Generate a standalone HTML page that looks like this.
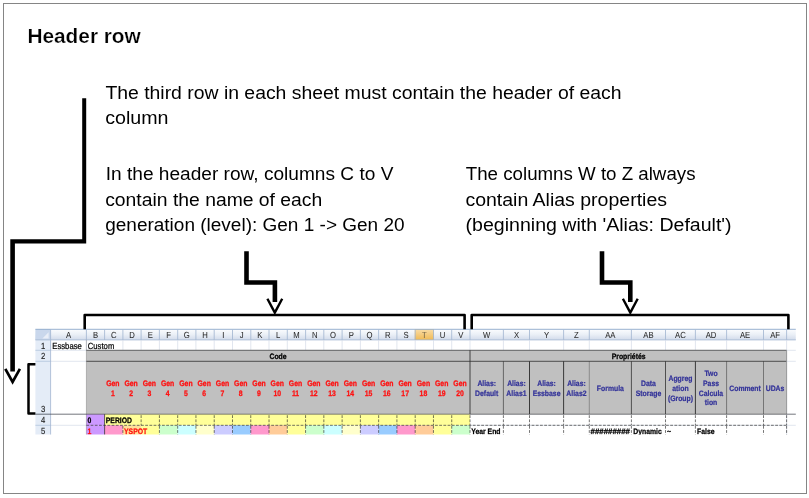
<!DOCTYPE html>
<html lang="en">
<head>
<meta charset="utf-8">
<title>Header row</title>
<style>
html,body{margin:0;padding:0;background:#fff;}
body{width:809px;height:498px;overflow:hidden;position:relative;font-family:"Liberation Sans", sans-serif;}
</style>
</head>
<body>
<svg width="809" height="498" viewBox="0 0 809 498" style="position:absolute;left:0;top:0;display:block" font-family='"Liberation Sans", sans-serif'>
<defs>
<linearGradient id="hg" x1="0" y1="0" x2="0" y2="1"><stop offset="0" stop-color="#fbfcfe"/><stop offset="0.5" stop-color="#eaeff6"/><stop offset="1" stop-color="#d2dbeb"/></linearGradient>
<linearGradient id="og" x1="0" y1="0" x2="0" y2="1"><stop offset="0" stop-color="#f9dca6"/><stop offset="1" stop-color="#f0ba55"/></linearGradient>
</defs>
<rect x="0" y="0" width="809" height="498" fill="#ffffff"/>
<rect x="3.5" y="3.5" width="803" height="490" fill="none" stroke="#858585" stroke-width="1"/>
<text x="27.4" y="43.2" font-size="19.6" font-weight="bold" fill="#000" stroke="#fff" stroke-width="0.22" textLength="113.4" lengthAdjust="spacingAndGlyphs">Header row</text>
<text x="105.4" y="98.6" font-size="18.3" fill="#000" textLength="516.1" lengthAdjust="spacingAndGlyphs">The third row in each sheet must contain the header of each</text>
<text x="105.2" y="123.6" font-size="18.3" fill="#000" textLength="63.3" lengthAdjust="spacingAndGlyphs">column</text>
<text x="105.8" y="180.4" font-size="18.3" fill="#000" textLength="287.6" lengthAdjust="spacingAndGlyphs">In the header row, columns C to V</text>
<text x="105.2" y="206.1" font-size="18.3" fill="#000" textLength="217.1" lengthAdjust="spacingAndGlyphs">contain the name of each</text>
<text x="105.2" y="231.4" font-size="18.3" fill="#000" textLength="299.4" lengthAdjust="spacingAndGlyphs">generation (level): Gen 1 -&gt; Gen 20</text>
<text x="465.8" y="180.4" font-size="18.3" fill="#000" textLength="229.7" lengthAdjust="spacingAndGlyphs">The columns W to Z always</text>
<text x="465.4" y="206.1" font-size="18.3" fill="#000" textLength="201.6" lengthAdjust="spacingAndGlyphs">contain Alias properties</text>
<text x="465.6" y="231.4" font-size="18.3" fill="#000" textLength="266.0" lengthAdjust="spacingAndGlyphs">(beginning with 'Alias: Default')</text>
<rect x="35.4" y="329.3" width="760.4" height="10.6" fill="url(#hg)"/>
<rect x="35.4" y="339.9" width="15.2" height="94.8" fill="#e4ecf7"/>
<rect x="35.4" y="329.3" width="15.2" height="10.6" fill="#c9d7ec"/>
<path d="M48.6 332.2 L48.6 338.4 L42.4 338.4 Z" fill="#e9eef7"/>
<rect x="414.7" y="329.3" width="19.2" height="10.6" fill="url(#og)"/>
<line x1="35.4" y1="329.3" x2="795.8" y2="329.3" stroke="#7f9dc4" stroke-width="0.8"/>
<line x1="35.4" y1="339.9" x2="795.8" y2="339.9" stroke="#9fb4cf" stroke-width="0.8"/>
<line x1="50.6" y1="329.8" x2="50.6" y2="339.9" stroke="#9fb4cf" stroke-width="0.8"/>
<line x1="86.4" y1="329.8" x2="86.4" y2="339.9" stroke="#9fb4cf" stroke-width="0.8"/>
<line x1="104.6" y1="329.8" x2="104.6" y2="339.9" stroke="#9fb4cf" stroke-width="0.8"/>
<line x1="122.9" y1="329.8" x2="122.9" y2="339.9" stroke="#9fb4cf" stroke-width="0.8"/>
<line x1="141.1" y1="329.8" x2="141.1" y2="339.9" stroke="#9fb4cf" stroke-width="0.8"/>
<line x1="159.4" y1="329.8" x2="159.4" y2="339.9" stroke="#9fb4cf" stroke-width="0.8"/>
<line x1="177.7" y1="329.8" x2="177.7" y2="339.9" stroke="#9fb4cf" stroke-width="0.8"/>
<line x1="195.9" y1="329.8" x2="195.9" y2="339.9" stroke="#9fb4cf" stroke-width="0.8"/>
<line x1="214.2" y1="329.8" x2="214.2" y2="339.9" stroke="#9fb4cf" stroke-width="0.8"/>
<line x1="232.5" y1="329.8" x2="232.5" y2="339.9" stroke="#9fb4cf" stroke-width="0.8"/>
<line x1="250.8" y1="329.8" x2="250.8" y2="339.9" stroke="#9fb4cf" stroke-width="0.8"/>
<line x1="269.0" y1="329.8" x2="269.0" y2="339.9" stroke="#9fb4cf" stroke-width="0.8"/>
<line x1="287.3" y1="329.8" x2="287.3" y2="339.9" stroke="#9fb4cf" stroke-width="0.8"/>
<line x1="305.6" y1="329.8" x2="305.6" y2="339.9" stroke="#9fb4cf" stroke-width="0.8"/>
<line x1="323.8" y1="329.8" x2="323.8" y2="339.9" stroke="#9fb4cf" stroke-width="0.8"/>
<line x1="342.1" y1="329.8" x2="342.1" y2="339.9" stroke="#9fb4cf" stroke-width="0.8"/>
<line x1="360.4" y1="329.8" x2="360.4" y2="339.9" stroke="#9fb4cf" stroke-width="0.8"/>
<line x1="378.6" y1="329.8" x2="378.6" y2="339.9" stroke="#9fb4cf" stroke-width="0.8"/>
<line x1="396.9" y1="329.8" x2="396.9" y2="339.9" stroke="#9fb4cf" stroke-width="0.8"/>
<line x1="415.2" y1="329.8" x2="415.2" y2="339.9" stroke="#9fb4cf" stroke-width="0.8"/>
<line x1="433.5" y1="329.8" x2="433.5" y2="339.9" stroke="#9fb4cf" stroke-width="0.8"/>
<line x1="451.7" y1="329.8" x2="451.7" y2="339.9" stroke="#9fb4cf" stroke-width="0.8"/>
<line x1="470.0" y1="329.8" x2="470.0" y2="339.9" stroke="#9fb4cf" stroke-width="0.8"/>
<line x1="503.4" y1="329.8" x2="503.4" y2="339.9" stroke="#9fb4cf" stroke-width="0.8"/>
<line x1="529.5" y1="329.8" x2="529.5" y2="339.9" stroke="#9fb4cf" stroke-width="0.8"/>
<line x1="563.6" y1="329.8" x2="563.6" y2="339.9" stroke="#9fb4cf" stroke-width="0.8"/>
<line x1="589.3" y1="329.8" x2="589.3" y2="339.9" stroke="#9fb4cf" stroke-width="0.8"/>
<line x1="631.4" y1="329.8" x2="631.4" y2="339.9" stroke="#9fb4cf" stroke-width="0.8"/>
<line x1="665.5" y1="329.8" x2="665.5" y2="339.9" stroke="#9fb4cf" stroke-width="0.8"/>
<line x1="695.4" y1="329.8" x2="695.4" y2="339.9" stroke="#9fb4cf" stroke-width="0.8"/>
<line x1="726.6" y1="329.8" x2="726.6" y2="339.9" stroke="#9fb4cf" stroke-width="0.8"/>
<line x1="763.5" y1="329.8" x2="763.5" y2="339.9" stroke="#9fb4cf" stroke-width="0.8"/>
<line x1="786.6" y1="329.8" x2="786.6" y2="339.9" stroke="#9fb4cf" stroke-width="0.8"/>
<text transform="translate(68.50 338.00) rotate(0.03) scale(1 1.150)" font-size="7.70" text-anchor="middle" fill="#2b2b2b" stroke="#2b2b2b" stroke-width="0.05">A</text>
<text transform="translate(95.50 338.00) rotate(0.03) scale(1 1.150)" font-size="7.70" text-anchor="middle" fill="#2b2b2b" stroke="#2b2b2b" stroke-width="0.05">B</text>
<text transform="translate(113.73 338.00) rotate(0.03) scale(1 1.150)" font-size="7.70" text-anchor="middle" fill="#2b2b2b" stroke="#2b2b2b" stroke-width="0.05">C</text>
<text transform="translate(132.00 338.00) rotate(0.03) scale(1 1.150)" font-size="7.70" text-anchor="middle" fill="#2b2b2b" stroke="#2b2b2b" stroke-width="0.05">D</text>
<text transform="translate(150.27 338.00) rotate(0.03) scale(1 1.150)" font-size="7.70" text-anchor="middle" fill="#2b2b2b" stroke="#2b2b2b" stroke-width="0.05">E</text>
<text transform="translate(168.55 338.00) rotate(0.03) scale(1 1.150)" font-size="7.70" text-anchor="middle" fill="#2b2b2b" stroke="#2b2b2b" stroke-width="0.05">F</text>
<text transform="translate(186.81 338.00) rotate(0.03) scale(1 1.150)" font-size="7.70" text-anchor="middle" fill="#2b2b2b" stroke="#2b2b2b" stroke-width="0.05">G</text>
<text transform="translate(205.08 338.00) rotate(0.03) scale(1 1.150)" font-size="7.70" text-anchor="middle" fill="#2b2b2b" stroke="#2b2b2b" stroke-width="0.05">H</text>
<text transform="translate(223.36 338.00) rotate(0.03) scale(1 1.150)" font-size="7.70" text-anchor="middle" fill="#2b2b2b" stroke="#2b2b2b" stroke-width="0.05">I</text>
<text transform="translate(241.62 338.00) rotate(0.03) scale(1 1.150)" font-size="7.70" text-anchor="middle" fill="#2b2b2b" stroke="#2b2b2b" stroke-width="0.05">J</text>
<text transform="translate(259.89 338.00) rotate(0.03) scale(1 1.150)" font-size="7.70" text-anchor="middle" fill="#2b2b2b" stroke="#2b2b2b" stroke-width="0.05">K</text>
<text transform="translate(278.16 338.00) rotate(0.03) scale(1 1.150)" font-size="7.70" text-anchor="middle" fill="#2b2b2b" stroke="#2b2b2b" stroke-width="0.05">L</text>
<text transform="translate(296.43 338.00) rotate(0.03) scale(1 1.150)" font-size="7.70" text-anchor="middle" fill="#2b2b2b" stroke="#2b2b2b" stroke-width="0.05">M</text>
<text transform="translate(314.71 338.00) rotate(0.03) scale(1 1.150)" font-size="7.70" text-anchor="middle" fill="#2b2b2b" stroke="#2b2b2b" stroke-width="0.05">N</text>
<text transform="translate(332.98 338.00) rotate(0.03) scale(1 1.150)" font-size="7.70" text-anchor="middle" fill="#2b2b2b" stroke="#2b2b2b" stroke-width="0.05">O</text>
<text transform="translate(351.25 338.00) rotate(0.03) scale(1 1.150)" font-size="7.70" text-anchor="middle" fill="#2b2b2b" stroke="#2b2b2b" stroke-width="0.05">P</text>
<text transform="translate(369.51 338.00) rotate(0.03) scale(1 1.150)" font-size="7.70" text-anchor="middle" fill="#2b2b2b" stroke="#2b2b2b" stroke-width="0.05">Q</text>
<text transform="translate(387.78 338.00) rotate(0.03) scale(1 1.150)" font-size="7.70" text-anchor="middle" fill="#2b2b2b" stroke="#2b2b2b" stroke-width="0.05">R</text>
<text transform="translate(406.05 338.00) rotate(0.03) scale(1 1.150)" font-size="7.70" text-anchor="middle" fill="#2b2b2b" stroke="#2b2b2b" stroke-width="0.05">S</text>
<text transform="translate(424.32 338.00) rotate(0.03) scale(1 1.150)" font-size="7.70" text-anchor="middle" fill="#7a6a4a" stroke="#7a6a4a" stroke-width="0.05">T</text>
<text transform="translate(442.60 338.00) rotate(0.03) scale(1 1.150)" font-size="7.70" text-anchor="middle" fill="#2b2b2b" stroke="#2b2b2b" stroke-width="0.05">U</text>
<text transform="translate(460.87 338.00) rotate(0.03) scale(1 1.150)" font-size="7.70" text-anchor="middle" fill="#2b2b2b" stroke="#2b2b2b" stroke-width="0.05">V</text>
<text transform="translate(486.70 338.00) rotate(0.03) scale(1 1.150)" font-size="7.70" text-anchor="middle" fill="#2b2b2b" stroke="#2b2b2b" stroke-width="0.05">W</text>
<text transform="translate(516.45 338.00) rotate(0.03) scale(1 1.150)" font-size="7.70" text-anchor="middle" fill="#2b2b2b" stroke="#2b2b2b" stroke-width="0.05">X</text>
<text transform="translate(546.55 338.00) rotate(0.03) scale(1 1.150)" font-size="7.70" text-anchor="middle" fill="#2b2b2b" stroke="#2b2b2b" stroke-width="0.05">Y</text>
<text transform="translate(576.45 338.00) rotate(0.03) scale(1 1.150)" font-size="7.70" text-anchor="middle" fill="#2b2b2b" stroke="#2b2b2b" stroke-width="0.05">Z</text>
<text transform="translate(610.35 338.00) rotate(0.03) scale(1 1.150)" font-size="7.70" text-anchor="middle" fill="#2b2b2b" stroke="#2b2b2b" stroke-width="0.05">AA</text>
<text transform="translate(648.45 338.00) rotate(0.03) scale(1 1.150)" font-size="7.70" text-anchor="middle" fill="#2b2b2b" stroke="#2b2b2b" stroke-width="0.05">AB</text>
<text transform="translate(680.45 338.00) rotate(0.03) scale(1 1.150)" font-size="7.70" text-anchor="middle" fill="#2b2b2b" stroke="#2b2b2b" stroke-width="0.05">AC</text>
<text transform="translate(711.00 338.00) rotate(0.03) scale(1 1.150)" font-size="7.70" text-anchor="middle" fill="#2b2b2b" stroke="#2b2b2b" stroke-width="0.05">AD</text>
<text transform="translate(745.05 338.00) rotate(0.03) scale(1 1.150)" font-size="7.70" text-anchor="middle" fill="#2b2b2b" stroke="#2b2b2b" stroke-width="0.05">AE</text>
<text transform="translate(775.05 338.00) rotate(0.03) scale(1 1.150)" font-size="7.70" text-anchor="middle" fill="#2b2b2b" stroke="#2b2b2b" stroke-width="0.05">AF</text>
<line x1="50.6" y1="339.9" x2="50.6" y2="350.3" stroke="#d4dbe8" stroke-width="0.7"/>
<line x1="86.4" y1="339.9" x2="86.4" y2="350.3" stroke="#d4dbe8" stroke-width="0.7"/>
<line x1="122.9" y1="339.9" x2="122.9" y2="350.3" stroke="#d4dbe8" stroke-width="0.7"/>
<line x1="141.1" y1="339.9" x2="141.1" y2="350.3" stroke="#d4dbe8" stroke-width="0.7"/>
<line x1="159.4" y1="339.9" x2="159.4" y2="350.3" stroke="#d4dbe8" stroke-width="0.7"/>
<line x1="177.7" y1="339.9" x2="177.7" y2="350.3" stroke="#d4dbe8" stroke-width="0.7"/>
<line x1="195.9" y1="339.9" x2="195.9" y2="350.3" stroke="#d4dbe8" stroke-width="0.7"/>
<line x1="214.2" y1="339.9" x2="214.2" y2="350.3" stroke="#d4dbe8" stroke-width="0.7"/>
<line x1="232.5" y1="339.9" x2="232.5" y2="350.3" stroke="#d4dbe8" stroke-width="0.7"/>
<line x1="250.8" y1="339.9" x2="250.8" y2="350.3" stroke="#d4dbe8" stroke-width="0.7"/>
<line x1="269.0" y1="339.9" x2="269.0" y2="350.3" stroke="#d4dbe8" stroke-width="0.7"/>
<line x1="287.3" y1="339.9" x2="287.3" y2="350.3" stroke="#d4dbe8" stroke-width="0.7"/>
<line x1="305.6" y1="339.9" x2="305.6" y2="350.3" stroke="#d4dbe8" stroke-width="0.7"/>
<line x1="323.8" y1="339.9" x2="323.8" y2="350.3" stroke="#d4dbe8" stroke-width="0.7"/>
<line x1="342.1" y1="339.9" x2="342.1" y2="350.3" stroke="#d4dbe8" stroke-width="0.7"/>
<line x1="360.4" y1="339.9" x2="360.4" y2="350.3" stroke="#d4dbe8" stroke-width="0.7"/>
<line x1="378.6" y1="339.9" x2="378.6" y2="350.3" stroke="#d4dbe8" stroke-width="0.7"/>
<line x1="396.9" y1="339.9" x2="396.9" y2="350.3" stroke="#d4dbe8" stroke-width="0.7"/>
<line x1="415.2" y1="339.9" x2="415.2" y2="350.3" stroke="#d4dbe8" stroke-width="0.7"/>
<line x1="433.5" y1="339.9" x2="433.5" y2="350.3" stroke="#d4dbe8" stroke-width="0.7"/>
<line x1="451.7" y1="339.9" x2="451.7" y2="350.3" stroke="#d4dbe8" stroke-width="0.7"/>
<line x1="470.0" y1="339.9" x2="470.0" y2="350.3" stroke="#d4dbe8" stroke-width="0.7"/>
<line x1="503.4" y1="339.9" x2="503.4" y2="350.3" stroke="#d4dbe8" stroke-width="0.7"/>
<line x1="529.5" y1="339.9" x2="529.5" y2="350.3" stroke="#d4dbe8" stroke-width="0.7"/>
<line x1="563.6" y1="339.9" x2="563.6" y2="350.3" stroke="#d4dbe8" stroke-width="0.7"/>
<line x1="589.3" y1="339.9" x2="589.3" y2="350.3" stroke="#d4dbe8" stroke-width="0.7"/>
<line x1="631.4" y1="339.9" x2="631.4" y2="350.3" stroke="#d4dbe8" stroke-width="0.7"/>
<line x1="665.5" y1="339.9" x2="665.5" y2="350.3" stroke="#d4dbe8" stroke-width="0.7"/>
<line x1="695.4" y1="339.9" x2="695.4" y2="350.3" stroke="#d4dbe8" stroke-width="0.7"/>
<line x1="726.6" y1="339.9" x2="726.6" y2="350.3" stroke="#d4dbe8" stroke-width="0.7"/>
<line x1="763.5" y1="339.9" x2="763.5" y2="350.3" stroke="#d4dbe8" stroke-width="0.7"/>
<line x1="786.6" y1="339.9" x2="786.6" y2="350.3" stroke="#d4dbe8" stroke-width="0.7"/>
<line x1="786.6" y1="350.3" x2="786.6" y2="434.7" stroke="#d4dbe8" stroke-width="0.7"/>
<line x1="50.6" y1="350.3" x2="795.8" y2="350.3" stroke="#d4dbe8" stroke-width="0.7"/>
<line x1="50.6" y1="361.3" x2="795.8" y2="361.3" stroke="#d4dbe8" stroke-width="0.7"/>
<line x1="50.6" y1="414.2" x2="795.8" y2="414.2" stroke="#d4dbe8" stroke-width="0.7"/>
<line x1="50.6" y1="425.3" x2="795.8" y2="425.3" stroke="#d4dbe8" stroke-width="0.7"/>
<line x1="35.4" y1="350.3" x2="50.6" y2="350.3" stroke="#b3c5dd" stroke-width="0.8"/>
<line x1="35.4" y1="361.3" x2="50.6" y2="361.3" stroke="#b3c5dd" stroke-width="0.8"/>
<line x1="35.4" y1="414.2" x2="50.6" y2="414.2" stroke="#b3c5dd" stroke-width="0.8"/>
<line x1="35.4" y1="425.3" x2="50.6" y2="425.3" stroke="#b3c5dd" stroke-width="0.8"/>
<line x1="50.6" y1="339.9" x2="50.6" y2="434.7" stroke="#9fb4cf" stroke-width="0.8"/>
<text transform="translate(43.10 348.60) rotate(0.03) scale(1 1.150)" font-size="7.70" text-anchor="middle" fill="#222" stroke="#222" stroke-width="0.12">1</text>
<text transform="translate(43.10 359.40) rotate(0.03) scale(1 1.150)" font-size="7.70" text-anchor="middle" fill="#222" stroke="#222" stroke-width="0.12">2</text>
<text transform="translate(43.10 412.30) rotate(0.03) scale(1 1.150)" font-size="7.70" text-anchor="middle" fill="#222" stroke="#222" stroke-width="0.12">3</text>
<text transform="translate(43.10 423.00) rotate(0.03) scale(1 1.150)" font-size="7.70" text-anchor="middle" fill="#222" stroke="#222" stroke-width="0.12">4</text>
<text transform="translate(43.10 433.90) rotate(0.03) scale(1 1.150)" font-size="7.70" text-anchor="middle" fill="#222" stroke="#222" stroke-width="0.12">5</text>
<text transform="translate(52.30 348.60) rotate(0.03) scale(1 1.150)" font-size="7.70" fill="#000" stroke="#000" stroke-width="0.20">Essbase</text>
<text transform="translate(87.80 348.60) rotate(0.03) scale(1 1.150)" font-size="7.70" fill="#000" stroke="#000" stroke-width="0.20">Custom</text>
<rect x="86.4" y="350.3" width="700.2" height="63.9" fill="#c0c0c0"/>
<line x1="86.4" y1="350.3" x2="786.6" y2="350.3" stroke="#2a2a2a" stroke-width="0.9" stroke-opacity="0.75"/>
<line x1="86.4" y1="361.3" x2="786.6" y2="361.3" stroke="#2a2a2a" stroke-width="0.9" stroke-opacity="0.85"/>
<line x1="470.0" y1="350.3" x2="470.0" y2="414.2" stroke="#2a2a2a" stroke-width="1" stroke-opacity="0.85"/>
<line x1="503.4" y1="361.3" x2="503.4" y2="414.2" stroke="#2a2a2a" stroke-width="1" stroke-opacity="0.60"/>
<line x1="529.5" y1="361.3" x2="529.5" y2="414.2" stroke="#2a2a2a" stroke-width="1" stroke-opacity="0.90"/>
<line x1="563.6" y1="361.3" x2="563.6" y2="414.2" stroke="#2a2a2a" stroke-width="1" stroke-opacity="0.90"/>
<line x1="589.3" y1="361.3" x2="589.3" y2="414.2" stroke="#2a2a2a" stroke-width="1" stroke-opacity="0.35"/>
<line x1="631.4" y1="361.3" x2="631.4" y2="414.2" stroke="#2a2a2a" stroke-width="1" stroke-opacity="0.75"/>
<line x1="665.5" y1="361.3" x2="665.5" y2="414.2" stroke="#2a2a2a" stroke-width="1" stroke-opacity="0.75"/>
<line x1="695.4" y1="361.3" x2="695.4" y2="414.2" stroke="#2a2a2a" stroke-width="1" stroke-opacity="0.90"/>
<line x1="726.6" y1="361.3" x2="726.6" y2="414.2" stroke="#2a2a2a" stroke-width="1" stroke-opacity="0.50"/>
<line x1="763.5" y1="361.3" x2="763.5" y2="414.2" stroke="#2a2a2a" stroke-width="1" stroke-opacity="0.50"/>
<line x1="786.6" y1="350.3" x2="786.6" y2="414.2" stroke="#8a8a8a" stroke-width="0.8"/>
<text transform="translate(278.00 359.00) rotate(0.03) scale(1 1.150)" font-size="6.85" font-weight="bold" text-anchor="middle" fill="#000" stroke="#000" stroke-width="0.22">Code</text>
<text transform="translate(628.60 359.00) rotate(0.03) scale(1 1.150)" font-size="6.85" font-weight="bold" text-anchor="middle" fill="#000" stroke="#000" stroke-width="0.22">Propriétés</text>
<text transform="translate(112.83 386.00) rotate(0.03) scale(1 1.150)" font-size="6.85" font-weight="bold" text-anchor="middle" fill="#f11" stroke="#f11" stroke-width="0.25">Gen</text>
<text transform="translate(112.83 395.90) rotate(0.03) scale(1 1.150)" font-size="6.85" font-weight="bold" text-anchor="middle" fill="#f11" stroke="#f11" stroke-width="0.25">1</text>
<text transform="translate(131.10 386.00) rotate(0.03) scale(1 1.150)" font-size="6.85" font-weight="bold" text-anchor="middle" fill="#f11" stroke="#f11" stroke-width="0.25">Gen</text>
<text transform="translate(131.10 395.90) rotate(0.03) scale(1 1.150)" font-size="6.85" font-weight="bold" text-anchor="middle" fill="#f11" stroke="#f11" stroke-width="0.25">2</text>
<text transform="translate(149.37 386.00) rotate(0.03) scale(1 1.150)" font-size="6.85" font-weight="bold" text-anchor="middle" fill="#f11" stroke="#f11" stroke-width="0.25">Gen</text>
<text transform="translate(149.37 395.90) rotate(0.03) scale(1 1.150)" font-size="6.85" font-weight="bold" text-anchor="middle" fill="#f11" stroke="#f11" stroke-width="0.25">3</text>
<text transform="translate(167.65 386.00) rotate(0.03) scale(1 1.150)" font-size="6.85" font-weight="bold" text-anchor="middle" fill="#f11" stroke="#f11" stroke-width="0.25">Gen</text>
<text transform="translate(167.65 395.90) rotate(0.03) scale(1 1.150)" font-size="6.85" font-weight="bold" text-anchor="middle" fill="#f11" stroke="#f11" stroke-width="0.25">4</text>
<text transform="translate(185.91 386.00) rotate(0.03) scale(1 1.150)" font-size="6.85" font-weight="bold" text-anchor="middle" fill="#f11" stroke="#f11" stroke-width="0.25">Gen</text>
<text transform="translate(185.91 395.90) rotate(0.03) scale(1 1.150)" font-size="6.85" font-weight="bold" text-anchor="middle" fill="#f11" stroke="#f11" stroke-width="0.25">5</text>
<text transform="translate(204.18 386.00) rotate(0.03) scale(1 1.150)" font-size="6.85" font-weight="bold" text-anchor="middle" fill="#f11" stroke="#f11" stroke-width="0.25">Gen</text>
<text transform="translate(204.18 395.90) rotate(0.03) scale(1 1.150)" font-size="6.85" font-weight="bold" text-anchor="middle" fill="#f11" stroke="#f11" stroke-width="0.25">6</text>
<text transform="translate(222.46 386.00) rotate(0.03) scale(1 1.150)" font-size="6.85" font-weight="bold" text-anchor="middle" fill="#f11" stroke="#f11" stroke-width="0.25">Gen</text>
<text transform="translate(222.46 395.90) rotate(0.03) scale(1 1.150)" font-size="6.85" font-weight="bold" text-anchor="middle" fill="#f11" stroke="#f11" stroke-width="0.25">7</text>
<text transform="translate(240.72 386.00) rotate(0.03) scale(1 1.150)" font-size="6.85" font-weight="bold" text-anchor="middle" fill="#f11" stroke="#f11" stroke-width="0.25">Gen</text>
<text transform="translate(240.72 395.90) rotate(0.03) scale(1 1.150)" font-size="6.85" font-weight="bold" text-anchor="middle" fill="#f11" stroke="#f11" stroke-width="0.25">8</text>
<text transform="translate(259.00 386.00) rotate(0.03) scale(1 1.150)" font-size="6.85" font-weight="bold" text-anchor="middle" fill="#f11" stroke="#f11" stroke-width="0.25">Gen</text>
<text transform="translate(259.00 395.90) rotate(0.03) scale(1 1.150)" font-size="6.85" font-weight="bold" text-anchor="middle" fill="#f11" stroke="#f11" stroke-width="0.25">9</text>
<text transform="translate(277.26 386.00) rotate(0.03) scale(1 1.150)" font-size="6.85" font-weight="bold" text-anchor="middle" fill="#f11" stroke="#f11" stroke-width="0.25">Gen</text>
<text transform="translate(277.26 395.90) rotate(0.03) scale(1 1.150)" font-size="6.85" font-weight="bold" text-anchor="middle" fill="#f11" stroke="#f11" stroke-width="0.25">10</text>
<text transform="translate(295.53 386.00) rotate(0.03) scale(1 1.150)" font-size="6.85" font-weight="bold" text-anchor="middle" fill="#f11" stroke="#f11" stroke-width="0.25">Gen</text>
<text transform="translate(295.53 395.90) rotate(0.03) scale(1 1.150)" font-size="6.85" font-weight="bold" text-anchor="middle" fill="#f11" stroke="#f11" stroke-width="0.25">11</text>
<text transform="translate(313.81 386.00) rotate(0.03) scale(1 1.150)" font-size="6.85" font-weight="bold" text-anchor="middle" fill="#f11" stroke="#f11" stroke-width="0.25">Gen</text>
<text transform="translate(313.81 395.90) rotate(0.03) scale(1 1.150)" font-size="6.85" font-weight="bold" text-anchor="middle" fill="#f11" stroke="#f11" stroke-width="0.25">12</text>
<text transform="translate(332.08 386.00) rotate(0.03) scale(1 1.150)" font-size="6.85" font-weight="bold" text-anchor="middle" fill="#f11" stroke="#f11" stroke-width="0.25">Gen</text>
<text transform="translate(332.08 395.90) rotate(0.03) scale(1 1.150)" font-size="6.85" font-weight="bold" text-anchor="middle" fill="#f11" stroke="#f11" stroke-width="0.25">13</text>
<text transform="translate(350.35 386.00) rotate(0.03) scale(1 1.150)" font-size="6.85" font-weight="bold" text-anchor="middle" fill="#f11" stroke="#f11" stroke-width="0.25">Gen</text>
<text transform="translate(350.35 395.90) rotate(0.03) scale(1 1.150)" font-size="6.85" font-weight="bold" text-anchor="middle" fill="#f11" stroke="#f11" stroke-width="0.25">14</text>
<text transform="translate(368.62 386.00) rotate(0.03) scale(1 1.150)" font-size="6.85" font-weight="bold" text-anchor="middle" fill="#f11" stroke="#f11" stroke-width="0.25">Gen</text>
<text transform="translate(368.62 395.90) rotate(0.03) scale(1 1.150)" font-size="6.85" font-weight="bold" text-anchor="middle" fill="#f11" stroke="#f11" stroke-width="0.25">15</text>
<text transform="translate(386.88 386.00) rotate(0.03) scale(1 1.150)" font-size="6.85" font-weight="bold" text-anchor="middle" fill="#f11" stroke="#f11" stroke-width="0.25">Gen</text>
<text transform="translate(386.88 395.90) rotate(0.03) scale(1 1.150)" font-size="6.85" font-weight="bold" text-anchor="middle" fill="#f11" stroke="#f11" stroke-width="0.25">16</text>
<text transform="translate(405.15 386.00) rotate(0.03) scale(1 1.150)" font-size="6.85" font-weight="bold" text-anchor="middle" fill="#f11" stroke="#f11" stroke-width="0.25">Gen</text>
<text transform="translate(405.15 395.90) rotate(0.03) scale(1 1.150)" font-size="6.85" font-weight="bold" text-anchor="middle" fill="#f11" stroke="#f11" stroke-width="0.25">17</text>
<text transform="translate(423.43 386.00) rotate(0.03) scale(1 1.150)" font-size="6.85" font-weight="bold" text-anchor="middle" fill="#f11" stroke="#f11" stroke-width="0.25">Gen</text>
<text transform="translate(423.43 395.90) rotate(0.03) scale(1 1.150)" font-size="6.85" font-weight="bold" text-anchor="middle" fill="#f11" stroke="#f11" stroke-width="0.25">18</text>
<text transform="translate(441.70 386.00) rotate(0.03) scale(1 1.150)" font-size="6.85" font-weight="bold" text-anchor="middle" fill="#f11" stroke="#f11" stroke-width="0.25">Gen</text>
<text transform="translate(441.70 395.90) rotate(0.03) scale(1 1.150)" font-size="6.85" font-weight="bold" text-anchor="middle" fill="#f11" stroke="#f11" stroke-width="0.25">19</text>
<text transform="translate(459.97 386.00) rotate(0.03) scale(1 1.150)" font-size="6.85" font-weight="bold" text-anchor="middle" fill="#f11" stroke="#f11" stroke-width="0.25">Gen</text>
<text transform="translate(459.97 395.90) rotate(0.03) scale(1 1.150)" font-size="6.85" font-weight="bold" text-anchor="middle" fill="#f11" stroke="#f11" stroke-width="0.25">20</text>
<text transform="translate(486.70 386.05) rotate(0.03) scale(1 1.150)" font-size="6.85" font-weight="bold" text-anchor="middle" fill="#333399" stroke="#333399" stroke-width="0.20">Alias:</text>
<text transform="translate(486.70 395.75) rotate(0.03) scale(1 1.150)" font-size="6.85" font-weight="bold" text-anchor="middle" fill="#333399" stroke="#333399" stroke-width="0.20">Default</text>
<text transform="translate(516.45 386.05) rotate(0.03) scale(1 1.150)" font-size="6.85" font-weight="bold" text-anchor="middle" fill="#333399" stroke="#333399" stroke-width="0.20">Alias:</text>
<text transform="translate(516.45 395.75) rotate(0.03) scale(1 1.150)" font-size="6.85" font-weight="bold" text-anchor="middle" fill="#333399" stroke="#333399" stroke-width="0.20">Alias1</text>
<text transform="translate(546.55 386.05) rotate(0.03) scale(1 1.150)" font-size="6.85" font-weight="bold" text-anchor="middle" fill="#333399" stroke="#333399" stroke-width="0.20">Alias:</text>
<text transform="translate(546.55 395.75) rotate(0.03) scale(1 1.150)" font-size="6.85" font-weight="bold" text-anchor="middle" fill="#333399" stroke="#333399" stroke-width="0.20">Essbase</text>
<text transform="translate(576.45 386.05) rotate(0.03) scale(1 1.150)" font-size="6.85" font-weight="bold" text-anchor="middle" fill="#333399" stroke="#333399" stroke-width="0.20">Alias:</text>
<text transform="translate(576.45 395.75) rotate(0.03) scale(1 1.150)" font-size="6.85" font-weight="bold" text-anchor="middle" fill="#333399" stroke="#333399" stroke-width="0.20">Alias2</text>
<text transform="translate(610.35 390.90) rotate(0.03) scale(1 1.150)" font-size="6.85" font-weight="bold" text-anchor="middle" fill="#333399" stroke="#333399" stroke-width="0.20">Formula</text>
<text transform="translate(648.45 386.05) rotate(0.03) scale(1 1.150)" font-size="6.85" font-weight="bold" text-anchor="middle" fill="#333399" stroke="#333399" stroke-width="0.20">Data</text>
<text transform="translate(648.45 395.75) rotate(0.03) scale(1 1.150)" font-size="6.85" font-weight="bold" text-anchor="middle" fill="#333399" stroke="#333399" stroke-width="0.20">Storage</text>
<text transform="translate(680.45 381.20) rotate(0.03) scale(1 1.150)" font-size="6.85" font-weight="bold" text-anchor="middle" fill="#333399" stroke="#333399" stroke-width="0.20">Aggreg</text>
<text transform="translate(680.45 390.90) rotate(0.03) scale(1 1.150)" font-size="6.85" font-weight="bold" text-anchor="middle" fill="#333399" stroke="#333399" stroke-width="0.20">ation</text>
<text transform="translate(680.45 400.60) rotate(0.03) scale(1 1.150)" font-size="6.85" font-weight="bold" text-anchor="middle" fill="#333399" stroke="#333399" stroke-width="0.20">(Group)</text>
<text transform="translate(711.00 376.35) rotate(0.03) scale(1 1.150)" font-size="6.85" font-weight="bold" text-anchor="middle" fill="#333399" stroke="#333399" stroke-width="0.20">Two</text>
<text transform="translate(711.00 386.05) rotate(0.03) scale(1 1.150)" font-size="6.85" font-weight="bold" text-anchor="middle" fill="#333399" stroke="#333399" stroke-width="0.20">Pass</text>
<text transform="translate(711.00 395.75) rotate(0.03) scale(1 1.150)" font-size="6.85" font-weight="bold" text-anchor="middle" fill="#333399" stroke="#333399" stroke-width="0.20">Calcula</text>
<text transform="translate(711.00 405.45) rotate(0.03) scale(1 1.150)" font-size="6.85" font-weight="bold" text-anchor="middle" fill="#333399" stroke="#333399" stroke-width="0.20">tion</text>
<text transform="translate(745.05 390.90) rotate(0.03) scale(1 1.150)" font-size="6.85" font-weight="bold" text-anchor="middle" fill="#333399" stroke="#333399" stroke-width="0.20">Comment</text>
<text transform="translate(775.05 390.90) rotate(0.03) scale(1 1.150)" font-size="6.85" font-weight="bold" text-anchor="middle" fill="#333399" stroke="#333399" stroke-width="0.20">UDAs</text>
<rect x="86.40" y="414.2" width="18.20" height="11.1" fill="#cc99ff"/>
<rect x="86.40" y="425.3" width="18.20" height="9.4" fill="#cc99ff"/>
<rect x="104.60" y="414.2" width="365.40" height="11.1" fill="#ffff99"/>
<rect x="104.60" y="425.3" width="18.27" height="9.4" fill="#ff99cc"/>
<rect x="122.87" y="425.3" width="18.27" height="9.4" fill="#ffe099"/>
<rect x="141.14" y="425.3" width="18.27" height="9.4" fill="#ffff99"/>
<rect x="159.41" y="425.3" width="18.27" height="9.4" fill="#ccffcc"/>
<rect x="177.68" y="425.3" width="18.27" height="9.4" fill="#ccffff"/>
<rect x="195.95" y="425.3" width="18.27" height="9.4" fill="#ffffcc"/>
<rect x="214.22" y="425.3" width="18.27" height="9.4" fill="#ccccff"/>
<rect x="232.49" y="425.3" width="18.27" height="9.4" fill="#99ccff"/>
<rect x="250.76" y="425.3" width="18.27" height="9.4" fill="#ff99cc"/>
<rect x="269.03" y="425.3" width="18.27" height="9.4" fill="#ffcc99"/>
<rect x="287.30" y="425.3" width="18.27" height="9.4" fill="#ffff99"/>
<rect x="305.57" y="425.3" width="18.27" height="9.4" fill="#ccffcc"/>
<rect x="323.84" y="425.3" width="18.27" height="9.4" fill="#ccffff"/>
<rect x="342.11" y="425.3" width="18.27" height="9.4" fill="#ffffcc"/>
<rect x="360.38" y="425.3" width="18.27" height="9.4" fill="#ccccff"/>
<rect x="378.65" y="425.3" width="18.27" height="9.4" fill="#99ccff"/>
<rect x="396.92" y="425.3" width="18.27" height="9.4" fill="#ff99cc"/>
<rect x="415.19" y="425.3" width="18.27" height="9.4" fill="#ffcc99"/>
<rect x="433.46" y="425.3" width="18.27" height="9.4" fill="#ffff99"/>
<rect x="451.73" y="425.3" width="18.27" height="9.4" fill="#ccffcc"/>
<line x1="122.87" y1="425.9" x2="122.87" y2="434.7" stroke="#222" stroke-width="0.8" stroke-opacity="0.78" stroke-dasharray="2.8 1.4"/>
<line x1="141.14" y1="415.2" x2="141.14" y2="425.3" stroke="#222" stroke-width="0.8" stroke-opacity="0.78" stroke-dasharray="2.8 1.4"/>
<line x1="159.41" y1="415.2" x2="159.41" y2="425.3" stroke="#222" stroke-width="0.8" stroke-opacity="0.78" stroke-dasharray="2.8 1.4"/>
<line x1="159.41" y1="425.9" x2="159.41" y2="434.7" stroke="#222" stroke-width="0.8" stroke-opacity="0.78" stroke-dasharray="2.8 1.4"/>
<line x1="177.68" y1="415.2" x2="177.68" y2="425.3" stroke="#222" stroke-width="0.8" stroke-opacity="0.78" stroke-dasharray="2.8 1.4"/>
<line x1="177.68" y1="425.9" x2="177.68" y2="434.7" stroke="#222" stroke-width="0.8" stroke-opacity="0.78" stroke-dasharray="2.8 1.4"/>
<line x1="195.95" y1="415.2" x2="195.95" y2="425.3" stroke="#222" stroke-width="0.8" stroke-opacity="0.78" stroke-dasharray="2.8 1.4"/>
<line x1="195.95" y1="425.9" x2="195.95" y2="434.7" stroke="#222" stroke-width="0.8" stroke-opacity="0.78" stroke-dasharray="2.8 1.4"/>
<line x1="214.22" y1="415.2" x2="214.22" y2="425.3" stroke="#222" stroke-width="0.8" stroke-opacity="0.78" stroke-dasharray="2.8 1.4"/>
<line x1="214.22" y1="425.9" x2="214.22" y2="434.7" stroke="#222" stroke-width="0.8" stroke-opacity="0.78" stroke-dasharray="2.8 1.4"/>
<line x1="232.49" y1="415.2" x2="232.49" y2="425.3" stroke="#222" stroke-width="0.8" stroke-opacity="0.78" stroke-dasharray="2.8 1.4"/>
<line x1="232.49" y1="425.9" x2="232.49" y2="434.7" stroke="#222" stroke-width="0.8" stroke-opacity="0.78" stroke-dasharray="2.8 1.4"/>
<line x1="250.76" y1="415.2" x2="250.76" y2="425.3" stroke="#222" stroke-width="0.8" stroke-opacity="0.78" stroke-dasharray="2.8 1.4"/>
<line x1="250.76" y1="425.9" x2="250.76" y2="434.7" stroke="#222" stroke-width="0.8" stroke-opacity="0.78" stroke-dasharray="2.8 1.4"/>
<line x1="269.03" y1="415.2" x2="269.03" y2="425.3" stroke="#222" stroke-width="0.8" stroke-opacity="0.78" stroke-dasharray="2.8 1.4"/>
<line x1="269.03" y1="425.9" x2="269.03" y2="434.7" stroke="#222" stroke-width="0.8" stroke-opacity="0.78" stroke-dasharray="2.8 1.4"/>
<line x1="287.30" y1="415.2" x2="287.30" y2="425.3" stroke="#222" stroke-width="0.8" stroke-opacity="0.78" stroke-dasharray="2.8 1.4"/>
<line x1="287.30" y1="425.9" x2="287.30" y2="434.7" stroke="#222" stroke-width="0.8" stroke-opacity="0.78" stroke-dasharray="2.8 1.4"/>
<line x1="305.57" y1="415.2" x2="305.57" y2="425.3" stroke="#222" stroke-width="0.8" stroke-opacity="0.78" stroke-dasharray="2.8 1.4"/>
<line x1="305.57" y1="425.9" x2="305.57" y2="434.7" stroke="#222" stroke-width="0.8" stroke-opacity="0.78" stroke-dasharray="2.8 1.4"/>
<line x1="323.84" y1="415.2" x2="323.84" y2="425.3" stroke="#222" stroke-width="0.8" stroke-opacity="0.78" stroke-dasharray="2.8 1.4"/>
<line x1="323.84" y1="425.9" x2="323.84" y2="434.7" stroke="#222" stroke-width="0.8" stroke-opacity="0.78" stroke-dasharray="2.8 1.4"/>
<line x1="342.11" y1="415.2" x2="342.11" y2="425.3" stroke="#222" stroke-width="0.8" stroke-opacity="0.78" stroke-dasharray="2.8 1.4"/>
<line x1="342.11" y1="425.9" x2="342.11" y2="434.7" stroke="#222" stroke-width="0.8" stroke-opacity="0.78" stroke-dasharray="2.8 1.4"/>
<line x1="360.38" y1="415.2" x2="360.38" y2="425.3" stroke="#222" stroke-width="0.8" stroke-opacity="0.78" stroke-dasharray="2.8 1.4"/>
<line x1="360.38" y1="425.9" x2="360.38" y2="434.7" stroke="#222" stroke-width="0.8" stroke-opacity="0.78" stroke-dasharray="2.8 1.4"/>
<line x1="378.65" y1="415.2" x2="378.65" y2="425.3" stroke="#222" stroke-width="0.8" stroke-opacity="0.78" stroke-dasharray="2.8 1.4"/>
<line x1="378.65" y1="425.9" x2="378.65" y2="434.7" stroke="#222" stroke-width="0.8" stroke-opacity="0.78" stroke-dasharray="2.8 1.4"/>
<line x1="396.92" y1="415.2" x2="396.92" y2="425.3" stroke="#222" stroke-width="0.8" stroke-opacity="0.78" stroke-dasharray="2.8 1.4"/>
<line x1="396.92" y1="425.9" x2="396.92" y2="434.7" stroke="#222" stroke-width="0.8" stroke-opacity="0.78" stroke-dasharray="2.8 1.4"/>
<line x1="415.19" y1="415.2" x2="415.19" y2="425.3" stroke="#222" stroke-width="0.8" stroke-opacity="0.78" stroke-dasharray="2.8 1.4"/>
<line x1="415.19" y1="425.9" x2="415.19" y2="434.7" stroke="#222" stroke-width="0.8" stroke-opacity="0.78" stroke-dasharray="2.8 1.4"/>
<line x1="433.46" y1="415.2" x2="433.46" y2="425.3" stroke="#222" stroke-width="0.8" stroke-opacity="0.78" stroke-dasharray="2.8 1.4"/>
<line x1="433.46" y1="425.9" x2="433.46" y2="434.7" stroke="#222" stroke-width="0.8" stroke-opacity="0.78" stroke-dasharray="2.8 1.4"/>
<line x1="451.73" y1="415.2" x2="451.73" y2="425.3" stroke="#222" stroke-width="0.8" stroke-opacity="0.78" stroke-dasharray="2.8 1.4"/>
<line x1="451.73" y1="425.9" x2="451.73" y2="434.7" stroke="#222" stroke-width="0.8" stroke-opacity="0.78" stroke-dasharray="2.8 1.4"/>
<line x1="470.00" y1="415.2" x2="470.00" y2="425.3" stroke="#222" stroke-width="0.8" stroke-opacity="0.78" stroke-dasharray="2.8 1.4"/>
<line x1="470.00" y1="425.9" x2="470.00" y2="434.7" stroke="#222" stroke-width="0.8" stroke-opacity="0.78" stroke-dasharray="2.8 1.4"/>
<line x1="503.40" y1="415.2" x2="503.40" y2="425.3" stroke="#222" stroke-width="0.8" stroke-opacity="0.78" stroke-dasharray="2.8 1.4"/>
<line x1="503.40" y1="425.9" x2="503.40" y2="434.7" stroke="#222" stroke-width="0.8" stroke-opacity="0.78" stroke-dasharray="2.8 1.4"/>
<line x1="529.50" y1="415.2" x2="529.50" y2="425.3" stroke="#222" stroke-width="0.8" stroke-opacity="0.78" stroke-dasharray="2.8 1.4"/>
<line x1="529.50" y1="425.9" x2="529.50" y2="434.7" stroke="#222" stroke-width="0.8" stroke-opacity="0.78" stroke-dasharray="2.8 1.4"/>
<line x1="563.60" y1="415.2" x2="563.60" y2="425.3" stroke="#222" stroke-width="0.8" stroke-opacity="0.78" stroke-dasharray="2.8 1.4"/>
<line x1="563.60" y1="425.9" x2="563.60" y2="434.7" stroke="#222" stroke-width="0.8" stroke-opacity="0.78" stroke-dasharray="2.8 1.4"/>
<line x1="589.30" y1="415.2" x2="589.30" y2="425.3" stroke="#222" stroke-width="0.8" stroke-opacity="0.78" stroke-dasharray="2.8 1.4"/>
<line x1="589.30" y1="425.9" x2="589.30" y2="434.7" stroke="#222" stroke-width="0.8" stroke-opacity="0.78" stroke-dasharray="2.8 1.4"/>
<line x1="631.40" y1="415.2" x2="631.40" y2="425.3" stroke="#222" stroke-width="0.8" stroke-opacity="0.78" stroke-dasharray="2.8 1.4"/>
<line x1="631.40" y1="425.9" x2="631.40" y2="434.7" stroke="#222" stroke-width="0.8" stroke-opacity="0.78" stroke-dasharray="2.8 1.4"/>
<line x1="665.50" y1="415.2" x2="665.50" y2="425.3" stroke="#222" stroke-width="0.8" stroke-opacity="0.78" stroke-dasharray="2.8 1.4"/>
<line x1="665.50" y1="425.9" x2="665.50" y2="434.7" stroke="#222" stroke-width="0.8" stroke-opacity="0.78" stroke-dasharray="2.8 1.4"/>
<line x1="695.40" y1="415.2" x2="695.40" y2="425.3" stroke="#222" stroke-width="0.8" stroke-opacity="0.78" stroke-dasharray="2.8 1.4"/>
<line x1="695.40" y1="425.9" x2="695.40" y2="434.7" stroke="#222" stroke-width="0.8" stroke-opacity="0.78" stroke-dasharray="2.8 1.4"/>
<line x1="726.60" y1="415.2" x2="726.60" y2="425.3" stroke="#222" stroke-width="0.8" stroke-opacity="0.78" stroke-dasharray="2.8 1.4"/>
<line x1="726.60" y1="425.9" x2="726.60" y2="434.7" stroke="#222" stroke-width="0.8" stroke-opacity="0.78" stroke-dasharray="2.8 1.4"/>
<line x1="763.50" y1="415.2" x2="763.50" y2="425.3" stroke="#222" stroke-width="0.8" stroke-opacity="0.78" stroke-dasharray="2.8 1.4"/>
<line x1="763.50" y1="425.9" x2="763.50" y2="434.7" stroke="#222" stroke-width="0.8" stroke-opacity="0.78" stroke-dasharray="2.8 1.4"/>
<line x1="786.60" y1="415.2" x2="786.60" y2="425.3" stroke="#222" stroke-width="0.8" stroke-opacity="0.78" stroke-dasharray="2.8 1.4"/>
<line x1="786.60" y1="425.9" x2="786.60" y2="434.7" stroke="#222" stroke-width="0.8" stroke-opacity="0.78" stroke-dasharray="2.8 1.4"/>
<line x1="104.6" y1="414.2" x2="104.6" y2="434.7" stroke="#222" stroke-width="0.9" stroke-opacity="0.8"/>
<line x1="86.4" y1="425.3" x2="786.6" y2="425.3" stroke="#222" stroke-width="0.8" stroke-opacity="0.78" stroke-dasharray="2.8 1.4"/>
<line x1="35.4" y1="414.2" x2="795.8" y2="414.2" stroke="#333" stroke-width="0.9" stroke-opacity="0.65"/>
<line x1="86.4" y1="339.9" x2="86.4" y2="434.7" stroke="#333" stroke-width="0.9" stroke-opacity="0.3"/>
<text transform="translate(87.60 423.00) rotate(0.03) scale(1 1.150)" font-size="6.85" font-weight="bold" fill="#000" stroke="#000" stroke-width="0.22">0</text>
<text transform="translate(87.60 433.90) rotate(0.03) scale(1 1.150)" font-size="6.85" font-weight="bold" fill="#f11" stroke="#f11" stroke-width="0.22">1</text>
<text transform="translate(105.80 423.00) rotate(0.03) scale(1 1.150)" font-size="6.85" font-weight="bold" fill="#000" stroke="#000" stroke-width="0.22">PERIOD</text>
<text transform="translate(124.00 433.90) rotate(0.03) scale(1 1.150)" font-size="6.85" font-weight="bold" fill="#f11" stroke="#f11" stroke-width="0.22">YSPOT</text>
<text transform="translate(471.20 433.90) rotate(0.03) scale(1 1.150)" font-size="6.85" font-weight="bold" fill="#000" stroke="#000" stroke-width="0.22">Year End</text>
<text transform="translate(590.60 433.90) rotate(0.03) scale(1 1.150)" font-size="6.85" font-weight="bold" fill="#000" stroke="#000" stroke-width="0.22" textLength="39.4" lengthAdjust="spacingAndGlyphs">#########</text>
<text transform="translate(633.30 433.90) rotate(0.03) scale(1 1.150)" font-size="6.85" font-weight="bold" fill="#000" stroke="#000" stroke-width="0.22">Dynamic</text>
<text transform="translate(667.00 433.90) rotate(0.03) scale(1 1.150)" font-size="6.85" font-weight="bold" fill="#000" stroke="#000" stroke-width="0.22">~</text>
<text transform="translate(697.00 433.90) rotate(0.03) scale(1 1.150)" font-size="6.85" font-weight="bold" fill="#000" stroke="#000" stroke-width="0.22">False</text>
<rect x="30" y="434.7" width="770" height="8" fill="#fff"/>
<path d="M84.7 329.3 L84.7 315.0 L464.6 315.0 L464.6 329.3" stroke="#000" fill="none" stroke-width="2.6" stroke-linejoin="round"/>
<path d="M471.7 329.3 L471.7 315.0 L788.4 315.0 L788.4 329.3" stroke="#000" fill="none" stroke-width="2.6" stroke-linejoin="round"/>
<path d="M35.4 364.3 L28.5 364.3 L28.5 413.5 L35.4 413.5" stroke="#000" fill="none" stroke-width="2.5" stroke-linejoin="round"/>
<path d="M82.2 98.3 H86.2 V243.6 H14.9 V371.5 H10.3 V239.2 H82.2 Z" fill="#000"/>
<path d="M5.3 368.9 L12.6 381.9 L19.9 368.9" stroke="#000" fill="none" stroke-width="2.7" stroke-linejoin="miter" stroke-miterlimit="10"/>
<path d="M246.5 251.3 L246.5 282.5 L274.9 282.5 L274.9 302" stroke="#000" fill="none" stroke-width="4.6" stroke-linejoin="miter"/>
<path d="M267.4 298.8 L274.8 312.6 L282.2 298.8" stroke="#000" fill="none" stroke-width="2.4" stroke-miterlimit="10"/>
<path d="M602 251.3 L602 282.5 L630.3 282.5 L630.3 302" stroke="#000" fill="none" stroke-width="4.6" stroke-linejoin="miter"/>
<path d="M622.9 298.8 L630.3 312.6 L637.7 298.8" stroke="#000" fill="none" stroke-width="2.4" stroke-miterlimit="10"/>
</svg>
</body>
</html>
